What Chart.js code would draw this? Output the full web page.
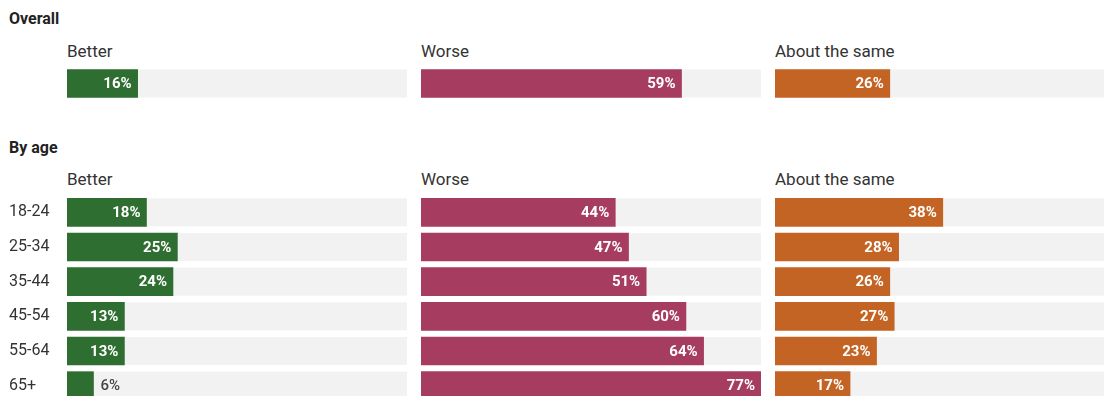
<!DOCTYPE html>
<html>
<head>
<meta charset="utf-8">
<script src="https://cdn.jsdelivr.net/npm/chart.js@4.4.1/dist/chart.umd.min.js"></script>
<style>
  html, body { margin: 0; padding: 0; background: #fff; }
  body { width: 1104px; height: 396px; overflow: hidden; position: relative; font-family: Roboto, "Liberation Sans", sans-serif; color: #222; }
  .lbl { position: absolute; white-space: nowrap; line-height: 20px; }
  .section { font-weight: bold; font-size: 16px; left: 9px; }
  .head { font-size: 17px; color: #333; }
  .box { position: absolute; }
</style>
</head>
<body>
<div class="lbl section" style="top:9px">Overall</div>
<div class="lbl head" style="top:41px;left:67px">Better</div>
<div class="lbl head" style="top:41px;left:421px">Worse</div>
<div class="lbl head" style="top:41px;left:775px">About the same</div>

<div class="lbl section" style="top:138px">By age</div>
<div class="lbl head" style="top:169px;left:67px">Better</div>
<div class="lbl head" style="top:169px;left:421px">Worse</div>
<div class="lbl head" style="top:169px;left:775px">About the same</div>

<div class="box" style="left:67px;top:66px"><canvas id="overallBetter" width="340" height="35"></canvas></div>
<div class="box" style="left:421px;top:66px"><canvas id="overallWorse" width="340" height="35"></canvas></div>
<div class="box" style="left:775px;top:66px"><canvas id="overallSame" width="340" height="35"></canvas></div>

<div class="box" style="left:0px;top:195px"><canvas id="ageBetter" width="407" height="208"></canvas></div>
<div class="box" style="left:421px;top:195px"><canvas id="ageWorse" width="340" height="208"></canvas></div>
<div class="box" style="left:775px;top:195px"><canvas id="ageSame" width="340" height="208"></canvas></div>

<script>
// data
const overallLabels = ['Overall'];
const overallBetter = [16];
const overallWorse = [59];
const overallSame = [26];

const ageGroups = ['18-24', '25-34', '35-44', '45-54', '55-64', '65+'];
const ageBetter = [18, 25, 24, 13, 13, 6];
const ageWorse = [44, 47, 51, 60, 64, 77];
const ageSame = [38, 28, 26, 27, 23, 17];

const GREEN = '#2f6e31';
const PINK = '#a63c60';
const ORANGE = '#c46424';
const TRACK = '#f2f2f2';

const scaleMax = Math.max(...overallBetter, ...overallWorse, ...overallSame,
                          ...ageBetter, ...ageWorse, ...ageSame);

// grey track behind each bar, full width of the chart area
const trackPlugin = {
  id: 'track',
  beforeDatasetsDraw(chart) {
    const ctx = chart.ctx;
    const area = chart.chartArea;
    const meta = chart.getDatasetMeta(0);
    ctx.save();
    ctx.fillStyle = TRACK;
    meta.data.forEach(bar => {
      ctx.fillRect(area.left, bar.y - bar.height / 2, area.right - area.left, bar.height);
    });
    ctx.restore();
  }
};

// percentage labels at the end of each bar
const valuePlugin = {
  id: 'values',
  afterDatasetsDraw(chart) {
    const ctx = chart.ctx;
    const meta = chart.getDatasetMeta(0);
    const values = chart.data.datasets[0].data;
    ctx.save();
    ctx.textBaseline = 'middle';
    meta.data.forEach((bar, i) => {
      const text = values[i] + '%';
      ctx.font = 'bold 15px Roboto, "Liberation Sans", sans-serif';
      const w = ctx.measureText(text).width;
      const barW = bar.x - bar.base;
      if (w + 12 < barW) {
        ctx.fillStyle = '#fff';
        ctx.textAlign = 'right';
        ctx.fillText(text, bar.x - 6, bar.y + 1);
      } else {
        // too narrow, put it outside
        ctx.font = '500 15px Roboto, "Liberation Sans", sans-serif';
        ctx.fillStyle = '#444';
        ctx.textAlign = 'left';
        ctx.fillText(text, bar.x + 7, bar.y + 1);
      }
    });
    ctx.restore();
  }
};

function makeChart(id, labels, values, color, showLabels) {
  const yAxis = {
    display: showLabels,
    grid: { display: false },
    border: { display: false },
    ticks: {
      color: '#333',
      crossAlign: 'far',
      padding: 0,
      font: { family: 'Roboto, "Liberation Sans", sans-serif', size: 16 }
    }
  };
  if (showLabels) {
    yAxis.afterFit = (scale) => {
      scale.width = 58;
      scale.paddingTop = 0;
      scale.paddingBottom = 0;
    };
  }

  new Chart(document.getElementById(id), {
    type: 'bar',
    data: {
      labels: labels,
      datasets: [{
        data: values,
        backgroundColor: color,
        barThickness: 28,
        borderWidth: 0
      }]
    },
    options: {
      indexAxis: 'y',
      responsive: false,
      animation: false,
      layout: { padding: { left: showLabels ? 9 : 0, right: 0, top: 0, bottom: 0 } },
      plugins: {
        legend: { display: false },
        tooltip: { enabled: false }
      },
      scales: {
        x: {
          display: false,
          min: 0,
          max: scaleMax
        },
        y: yAxis
      }
    },
    plugins: [trackPlugin, valuePlugin]
  });
}

makeChart('overallBetter', overallLabels, overallBetter, GREEN, false);
makeChart('overallWorse', overallLabels, overallWorse, PINK, false);
makeChart('overallSame', overallLabels, overallSame, ORANGE, false);

makeChart('ageBetter', ageGroups, ageBetter, GREEN, true);
makeChart('ageWorse', ageGroups, ageWorse, PINK, false);
makeChart('ageSame', ageGroups, ageSame, ORANGE, false);
</script>
</body>
</html>
